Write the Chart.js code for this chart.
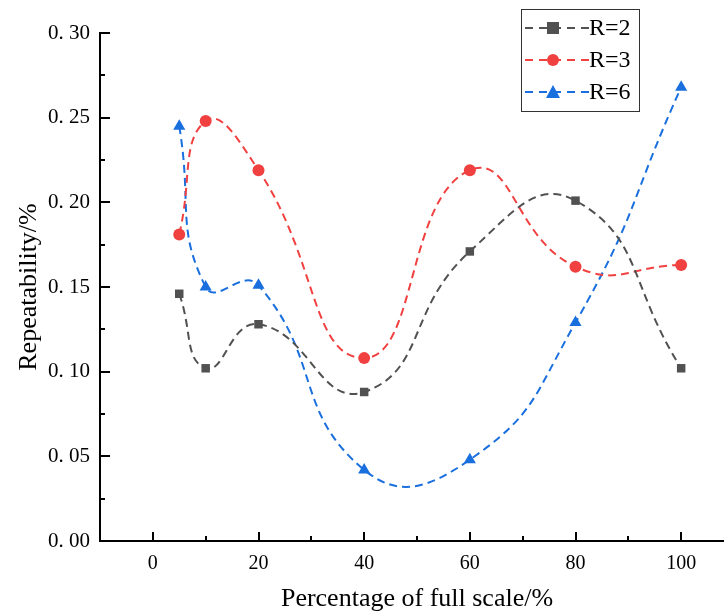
<!DOCTYPE html>
<html>
<head>
<meta charset="utf-8">
<script src="https://cdn.jsdelivr.net/npm/chart.js@4"></script>
<style>
  html, body { margin: 0; padding: 0; background: #fff; overflow: hidden; }
  #wrap { width: 741px; height: 615px; }
</style>
</head>
<body>
<div id="wrap"><canvas id="chart"></canvas></div>
<script>
// ---- data ----
const xVals = [5, 10, 20, 40, 60, 80, 100];
const r2 = [0.146, 0.102, 0.128, 0.088, 0.171, 0.201, 0.102];
const r3 = [0.181, 0.248, 0.219, 0.108, 0.219, 0.162, 0.163];
const r6 = [0.245, 0.150, 0.151, 0.042, 0.048, 0.129, 0.268];
const seriesNames = ["R=2", "R=3", "R=6"];
const xTicks = [0, 20, 40, 60, 80, 100];
const yTicks = [0, 0.05, 0.10, 0.15, 0.20, 0.25, 0.30];

const colors = ["#515151", "#F14040", "#1A6FDF"];
const markers = ["rect", "circle", "triangle"];
const markerSize = [6, 6, 7];
const serif = "'Liberation Serif', 'DejaVu Serif', serif";

const toPts = arr => arr.map((v, i) => ({ x: xVals[i], y: v }));

const datasets = [r2, r3, r6].map((arr, i) => ({
  label: seriesNames[i],
  data: toPts(arr),
  borderColor: colors[i],
  backgroundColor: colors[i],
  borderWidth: 2,
  borderDash: [8, 5],
  tension: 0.5,
  pointStyle: markers[i],
  pointRadius: markerSize[i],
  pointBorderWidth: 0,
  clip: false
}));

// inward ticks, custom legend and x title
const decorPlugin = {
  id: "decor",
  afterDraw(chart) {
    const ctx = chart.ctx;
    const xs = chart.scales.x, ys = chart.scales.y;
    const area = chart.chartArea;
    ctx.save();
    ctx.strokeStyle = "#000";
    ctx.lineWidth = 2;
    // x ticks
    for (let v = 0; v <= 100; v += 10) {
      const px = Math.round(xs.getPixelForValue(v));
      const len = v % 20 === 0 ? 9 : 5;
      ctx.beginPath();
      ctx.moveTo(px, area.bottom);
      ctx.lineTo(px, area.bottom - len);
      ctx.stroke();
    }
    // y ticks
    for (let k = 0; k <= 12; k++) {
      const py = Math.round(ys.getPixelForValue(k * 0.025));
      const len = k % 2 === 0 ? 10 : 5;
      ctx.beginPath();
      ctx.moveTo(area.left, py);
      ctx.lineTo(area.left + len, py);
      ctx.stroke();
    }
    // x title
    ctx.fillStyle = "#000";
    ctx.font = "26px " + serif;
    ctx.textAlign = "center";
    ctx.textBaseline = "middle";
    ctx.fillText("Percentage of full scale/%", (area.left + area.right) / 2, 599);

    // legend
    const bx = 521, by = 9, bw = 118, bh = 102;
    ctx.lineWidth = 1;
    ctx.strokeStyle = "#333";
    ctx.strokeRect(bx + 0.5, by + 0.5, bw, bh);
    chart.data.datasets.forEach((ds, i) => {
      const y = by + 19 + i * 32;
      ctx.strokeStyle = ds.borderColor;
      ctx.lineWidth = 2;
      ctx.setLineDash([8, 6]);
      ctx.beginPath();
      ctx.moveTo(bx + 4, y);
      ctx.lineTo(bx + 68, y);
      ctx.stroke();
      ctx.setLineDash([]);
      const mx = bx + 32;
      ctx.fillStyle = ds.backgroundColor;
      ctx.beginPath();
      if (ds.pointStyle === "rect") {
        ctx.rect(mx - 6, y - 6, 12, 12);
      } else if (ds.pointStyle === "circle") {
        ctx.arc(mx, y, 6, 0, Math.PI * 2);
      } else {
        ctx.moveTo(mx, y - 7);
        ctx.lineTo(mx + 7, y + 6);
        ctx.lineTo(mx - 7, y + 6);
        ctx.closePath();
      }
      ctx.fill();
      ctx.fillStyle = "#000";
      ctx.font = "24px " + serif;
      ctx.textAlign = "left";
      ctx.textBaseline = "middle";
      ctx.fillText(ds.label, bx + 68, y + 1);
    });
    ctx.restore();
  }
};

new Chart(document.getElementById("chart"), {
  type: "line",
  data: { datasets },
  options: {
    responsive: true,
    maintainAspectRatio: false,
    animation: false,
    layout: { padding: { top: 33, right: 0, bottom: 0, left: 0 } },
    plugins: {
      legend: { display: false },
      tooltip: { enabled: false }
    },
    scales: {
      x: {
        type: "linear",
        min: -10,
        max: 110,
        afterFit: s => { s.height = 74; },
        afterBuildTicks: s => { s.ticks = xTicks.map(v => ({ value: v })); },
        grid: { display: false, drawTicks: false },
        border: { display: true, color: "#000", width: 2 },
        ticks: {
          padding: 11,
          color: "#000",
          font: { family: serif, size: 20 }
        }
      },
      y: {
        type: "linear",
        min: 0,
        max: 0.3,
        afterFit: s => { s.width = 100; },
        afterBuildTicks: s => { s.ticks = yTicks.map(v => ({ value: v })); },
        grid: { display: false, drawTicks: false },
        border: { display: true, color: "#000", width: 2 },
        title: {
          display: true,
          text: "Repeatability/%",
          color: "#000",
          font: { family: serif, size: 26 },
          padding: { top: 14, bottom: 0 }
        },
        ticks: {
          padding: 10,
          color: "#000",
          font: { family: serif, size: 21 },
          callback: v => v.toFixed(2).replace(".", ". ")
        }
      }
    }
  },
  plugins: [decorPlugin]
});
</script>
</body>
</html>
